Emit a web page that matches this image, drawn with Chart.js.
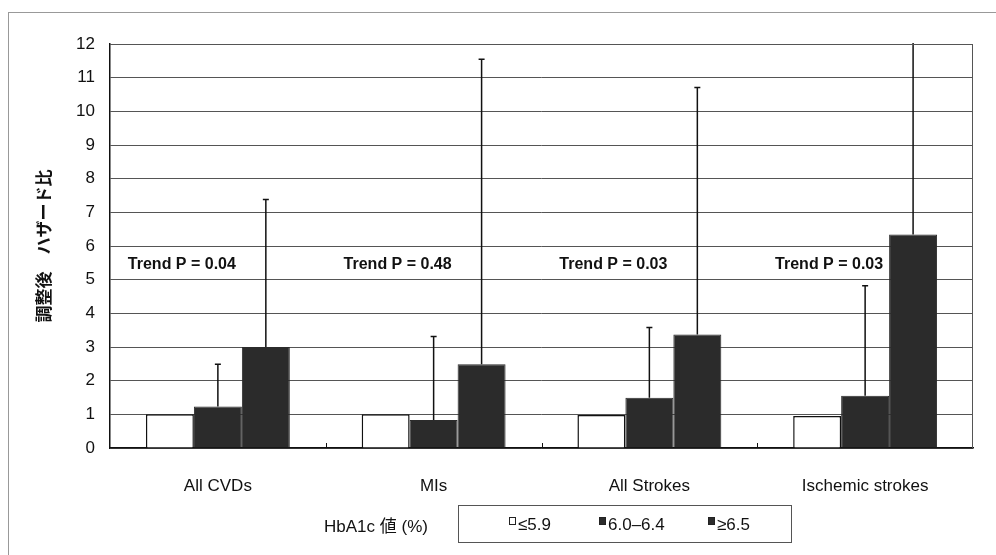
<!DOCTYPE html>
<html>
<head>
<meta charset="utf-8">
<script src="https://cdn.jsdelivr.net/npm/chart.js@4.4.1/dist/chart.umd.min.js"></script>
<style>
  html, body { margin: 0; padding: 0; background: #fff; }
  #wrap { position: relative; width: 996px; height: 555px; }
  #frame { position: absolute; left: 8px; top: 12px; width: 990px; height: 560px;
           border-top: 1px solid #999; border-left: 1px solid #999; }
  #legend-title { position: absolute; left: 324px; top: 512px; font: 17px "Liberation Sans", "Noto Sans CJK JP", sans-serif; color: #111; }
  #legend { position: absolute; left: 458px; top: 505px; width: 334px; height: 38px;
            border: 1px solid #555; box-sizing: border-box; }
  .item { position: absolute; top: 9px; font: 17px "Liberation Sans", sans-serif; color: #111; }
  .sw { display: inline-block; width: 7px; height: 8px; margin-right: 2px; vertical-align: 5px; box-sizing: border-box; border: 1px solid #222; }
</style>
</head>
<body>
<div id="wrap">
  <div id="frame"></div>
  <canvas id="chart" width="996" height="555"></canvas>
  <div id="legend-title">HbA1c 値 (%)</div>
  <div id="legend"></div>
</div>
<script>
  const categories = ['All CVDs', 'MIs', 'All Strokes', 'Ischemic strokes'];
  const seriesLbls = ['≤5.9', '6.0–6.4', '≥6.5'];
  const hrLow   = [1.0, 1.0, 0.98, 0.95];
  const hrMid   = [1.23, 0.83, 1.49, 1.55];
  const hrHigh  = [3.0, 2.49, 3.37, 6.34];
  const ciMid   = [2.49, 3.31, 3.58, 4.82];
  const ciHigh  = [7.38, 11.55, 10.71, 13.5];
  const trendP  = ['Trend P = 0.04', 'Trend P = 0.48', 'Trend P = 0.03', 'Trend P = 0.03'];
  const yTicks  = [0, 1, 2, 3, 4, 5, 6, 7, 8, 9, 10, 11, 12];

  const ink   = '#111';
  const dark  = '#2b2b2b';
  const font  = '"Liberation Sans", "Noto Sans CJK JP", sans-serif';

  // upper CI whiskers on the shaded bars
  const errorBars = {
      id: 'errorBars',
      afterDatasetsDraw(chart) {
          const ctx = chart.ctx;
          const y = chart.scales.y;
          const a = chart.chartArea;
          ctx.save();
          ctx.beginPath();
          ctx.rect(a.left, a.top - 1, a.right - a.left, a.bottom - a.top + 1);
          ctx.clip();
          ctx.strokeStyle = ink;
          ctx.lineWidth = 1.5;
          chart.data.datasets.forEach((ds, i) => {
              if (!ds.ci) return;
              chart.getDatasetMeta(i).data.forEach((bar, j) => {
                  const top = y.getPixelForValue(ds.ci[j]);
                  ctx.beginPath();
                  ctx.moveTo(bar.x, bar.y);
                  ctx.lineTo(bar.x, top);
                  ctx.moveTo(bar.x - 3, top);
                  ctx.lineTo(bar.x + 3, top);
                  ctx.stroke();
              });
          });
          ctx.restore();
      }
  };

  // trend labels + small inward ticks between categories
  const trendText = {
      id: 'trendText',
      afterDatasetsDraw(chart) {
          const ctx = chart.ctx;
          const x = chart.scales.x, y = chart.scales.y;
          const half = (x.getPixelForValue(1) - x.getPixelForValue(0)) / 2;
          ctx.save();
          ctx.strokeStyle = ink;
          ctx.lineWidth = 1;
          for (let i = 1; i < categories.length; i++) {
              const bx = Math.round(x.getPixelForValue(i) - half) + 0.5;
              ctx.beginPath();
              ctx.moveTo(bx, y.bottom);
              ctx.lineTo(bx, y.bottom - 5);
              ctx.stroke();
          }
          ctx.font = 'bold 16px ' + font;
          ctx.fillStyle = ink;
          ctx.textAlign = 'center';
          ctx.textBaseline = 'middle';
          trendP.forEach((t, i) => {
              ctx.fillText(t, x.getPixelForValue(i) - 36, y.getPixelForValue(5.45));
          });
          ctx.restore();
      }
  };

  const datasets = [
      { label: seriesLbls[0], data: hrLow,  backgroundColor: '#fff', borderColor: ink, borderWidth: 1.5 },
      { label: seriesLbls[1], data: hrMid,  backgroundColor: dark, borderColor: dark, borderWidth: 1, ci: ciMid },
      { label: seriesLbls[2], data: hrHigh, backgroundColor: dark, borderColor: dark, borderWidth: 1, ci: ciHigh }
  ];

  new Chart(document.getElementById('chart'), {
      type: 'bar',
      data: { labels: categories, datasets: datasets },
      plugins: [errorBars, trendText],
      options: {
          responsive: false,
          animation: false,
          layout: { padding: { left: 30, top: 44, right: 23, bottom: 47 } },
          categoryPercentage: 0.667,
          barPercentage: 1.0,
          plugins: { legend: { display: false }, tooltip: { enabled: false } },
          scales: {
              x: {
                  afterFit: s => { s.height = 60; },
                  grid: { display: false },
                  border: { color: ink, width: 1.5 },
                  ticks: { color: ink, padding: 20, font: { size: 17, family: font } }
              },
              y: {
                  min: 0, max: 12,
                  afterFit: s => { s.width = 80; },
                  afterBuildTicks: s => { s.ticks = yTicks.map(v => ({ value: v })); },
                  grid: { color: '#555', lineWidth: 1, drawTicks: false },
                  border: { color: ink, width: 1.5 },
                  ticks: { color: ink, padding: 15, font: { size: 17, family: font } },
                  title: {
                      display: true,
                      text: '調整後　ハザード比',
                      color: ink,
                      padding: { top: 5 },
                      font: { size: 17, weight: 'bold', family: font }
                  }
              }
          }
      }
  });

  // boxed legend, Excel style
  const legend = document.getElementById('legend');
  const itemX = [50, 140, 249];
  datasets.forEach((ds, i) => {
      const d = document.createElement('div');
      d.className = 'item';
      d.style.left = itemX[i] + 'px';
      d.innerHTML = '<span class="sw" style="background:' + ds.backgroundColor + '"></span>' + ds.label;
      legend.appendChild(d);
  });
  // plot frame on the right and top
  const fr = document.createElement('div');
  fr.style.cssText = 'position:absolute;left:110px;top:44px;width:863px;height:404px;border-top:1px solid #555;border-right:1px solid #555;box-sizing:border-box;pointer-events:none';
  document.getElementById('wrap').appendChild(fr);
</script>
</body>
</html>
